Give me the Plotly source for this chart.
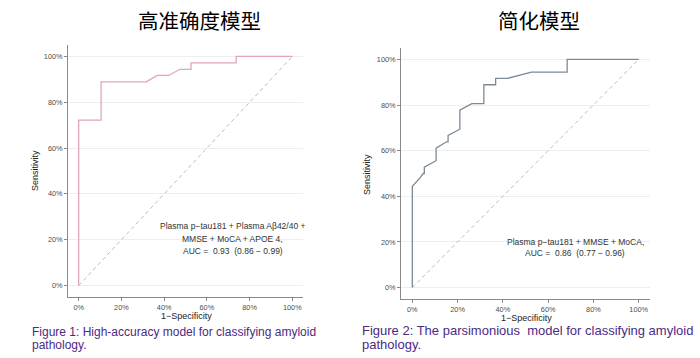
import plotly.graph_objects as go

# ---- data (fractions) ----
fpr_high = [0, 0, 0.105, 0.105, 0.316, 0.368, 0.421, 0.474, 0.526, 0.526, 0.737, 0.737, 1.0]
tpr_high = [0, 0.722, 0.722, 0.889, 0.889, 0.917, 0.917, 0.944, 0.944, 0.972, 0.972, 1.0, 1.0]

fpr_pars = [0, 0, 0.034, 0.048, 0.053, 0.053, 0.105, 0.105, 0.151, 0.158, 0.158, 0.210, 0.210,
            0.263, 0.316, 0.316, 0.368, 0.368, 0.421, 0.526, 0.684, 0.684, 1.0]
tpr_pars = [0, 0.444, 0.481, 0.500, 0.500, 0.528, 0.556, 0.611, 0.639, 0.639, 0.667, 0.694, 0.778,
            0.806, 0.806, 0.889, 0.889, 0.917, 0.917, 0.944, 0.944, 1.0, 1.0]

diag = [0, 1]
tick_vals = [0, 0.2, 0.4, 0.6, 0.8, 1.0]

titles = ["高准确度模型", "简化模型"]
auc_high = ["Plasma p\u2212tau181 + Plasma A\u03b242/40 +", "MMSE + MoCA + APOE 4,",
            "AUC =\u00a0 0.93\u00a0 (0.86 \u2212 0.99)"]
auc_pars = ["Plasma p\u2212tau181 + MMSE + MoCA,", "AUC =\u00a0 0.86\u00a0 (0.77 \u2212 0.96)"]
cap_high = ["Figure 1: High-accuracy model for classifying amyloid", "pathology."]
cap_pars = ["Figure 2: The parsimonious\u00a0 model for classifying amyloid", "pathology."]

W, H = 700, 358
PINK = "#E2A5B8"
STEEL = "#7C8A98"
FONT = "Liberation Sans, Arial, sans-serif"

fig = go.Figure()
fig.add_trace(go.Scatter(x=diag, y=diag, mode="lines", line=dict(color="#BDBDBD", width=1, dash="4px,3px"),
                         xaxis="x", yaxis="y", showlegend=False, hoverinfo="skip"))
fig.add_trace(go.Scatter(x=fpr_high, y=tpr_high, mode="lines", line=dict(color=PINK, width=1.3),
                         xaxis="x", yaxis="y", showlegend=False))
fig.add_trace(go.Scatter(x=diag, y=diag, mode="lines", line=dict(color="#BDBDBD", width=1, dash="4px,3px"),
                         xaxis="x2", yaxis="y2", showlegend=False, hoverinfo="skip"))
fig.add_trace(go.Scatter(x=fpr_pars, y=tpr_pars, mode="lines", line=dict(color=STEEL, width=1.3),
                         xaxis="x2", yaxis="y2", showlegend=False))

def px(x):
    return x / W

def py(y):
    return 1 - y / H

axis_common = dict(range=[-0.05, 1.05], tickvals=tick_vals, tickformat=".0%",
                   showline=True, linecolor="#8A8A8A", linewidth=1, ticks="outside",
                   ticklen=3, tickcolor="#8A8A8A", zeroline=False, automargin=False,
                   tickfont=dict(family=FONT, size=7.3, color="#4D4D4D"))

fig.update_layout(
    width=W, height=H, margin=dict(l=0, r=0, t=0, b=0, autoexpand=False),
    paper_bgcolor="white", plot_bgcolor="white",
    xaxis=dict(domain=[px(68), px(303)], anchor="y", showgrid=False, **axis_common),
    yaxis=dict(domain=[py(297), py(45)], anchor="x", showgrid=True, gridcolor="#EEEEEE", gridwidth=1, **axis_common),
    xaxis2=dict(domain=[px(401), px(650)], anchor="y2", showgrid=False, **axis_common),
    yaxis2=dict(domain=[py(299), py(48)], anchor="x2", showgrid=True, gridcolor="#EEEEEE", gridwidth=1, **axis_common),
)

ann = []
def text(x, y, s, size, color="black", xanchor="center", angle=0, family=FONT):
    ann.append(dict(x=px(x), y=py(y), xref="paper", yref="paper", text=s, showarrow=False,
                    xanchor=xanchor, yanchor="middle", textangle=angle,
                    font=dict(family=family, size=size, color=color)))

CJK = "Noto Sans CJK SC, sans-serif"
text(199, 20, titles[0], 20.5, family=CJK)
text(539, 20, titles[1], 20.5, family=CJK)

text(35, 171, "Sensitivity", 9, color="#222222", angle=-90)
text(367, 174, "Sensitivity", 9, color="#222222", angle=-90)
text(186, 315.5, "1\u2212Specificity", 9, color="#222222")
text(526, 317.5, "1\u2212Specificity", 9, color="#222222")

for s, yy in zip(auc_high, [225.7, 239, 250.7]):
    text(232.5, yy, s, 8.5, color="#333333")
for s, yy in zip(auc_pars, [241.7, 253.3]):
    text(575, yy, s, 8.5, color="#333333")

CAP = "#4B2A86"
for s, yy in zip(cap_high, [331.7, 345]):
    text(30, yy, s, 12, color=CAP, xanchor="left")
for s, yy in zip(cap_pars, [330, 344]):
    text(360, yy, s, 13, color=CAP, xanchor="left")

fig.update_layout(annotations=ann)
fig.write_html("out.html", config={"displayModeBar": False},
               post_script="document.body.style.margin='0';document.body.style.overflow='hidden';")
